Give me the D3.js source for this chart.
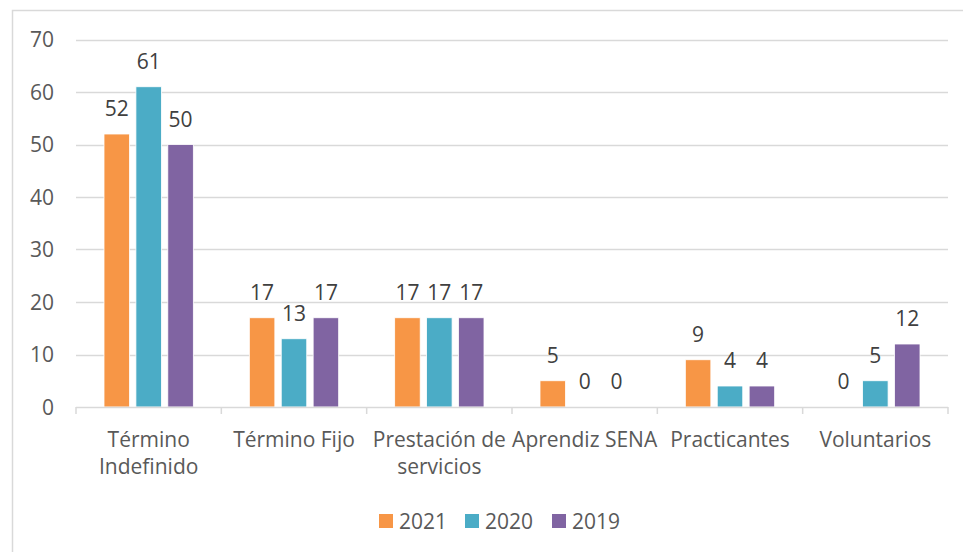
<html>
<head>
<meta charset="utf-8">
<script src="https://cdn.jsdelivr.net/npm/d3@7"></script>
<style>
  body { margin: 0; background: #fff; }
  text { font-family: "Open Sans", "Liberation Sans", Arial, sans-serif; fill: #595959; }
</style>
</head>
<body>
<div id="chart"></div>
<script>
// data
var categories = ["Término Indefinido", "Término Fijo", "Prestación de servicios", "Aprendiz SENA", "Practicantes", "Voluntarios"];
var catLines = [["Término", "Indefinido"], ["Término Fijo"], ["Prestación de", "servicios"], ["Aprendiz SENA"], ["Practicantes"], ["Voluntarios"]];
var seriesNames = ["2021", "2020", "2019"];
var v2021 = [52, 17, 17, 5, 9, 0];
var v2020 = [61, 13, 17, 0, 4, 5];
var v2019 = [50, 17, 17, 0, 4, 12];
var yTicks = [0, 10, 20, 30, 40, 50, 60, 70];
var colors = ["#F79646", "#4BACC6", "#8064A2"];

var seriesVals = [v2021, v2020, v2019];

var W = 963, H = 552;
var plot = {left: 76, right: 948, top: 39.5, bottom: 407};
var fs = "21px";

var svg = d3.select("#chart").append("svg")
    .attr("width", W)
    .attr("height", H);

// outer chart border (cropped at right/bottom)
svg.append("rect")
    .attr("x", 12.5).attr("y", 10.5)
    .attr("width", 1000).attr("height", 600)
    .attr("fill", "none")
    .attr("stroke", "#d9d9d9")
    .attr("stroke-width", 1.5);

var x = d3.scaleBand()
    .domain(categories)
    .range([plot.left, plot.right])
    .paddingInner(0)
    .paddingOuter(0);

var y = d3.scaleLinear()
    .domain([0, 70])
    .range([plot.bottom, plot.top]);

var xInner = d3.scaleBand()
    .domain(seriesNames)
    .range([28, x.bandwidth() - 28])
    .paddingInner(0.2);

// gridlines
svg.append("g")
    .selectAll("line")
    .data(yTicks.filter(function (d) { return d > 0; }))
    .enter().append("line")
    .attr("x1", plot.left).attr("x2", plot.right)
    .attr("y1", function (d) { return Math.round(y(d)) + 0.5; })
    .attr("y2", function (d) { return Math.round(y(d)) + 0.5; })
    .attr("stroke", "#d9d9d9")
    .attr("stroke-width", 1.5);

// y labels
svg.append("g")
    .selectAll("text")
    .data(yTicks)
    .enter().append("text")
    .attr("x", 54)
    .attr("y", function (d) { return y(d); })
    .attr("dy", "0.36em")
    .attr("text-anchor", "end")
    .attr("font-size", fs)
    .text(function (d) { return d; });

// bars
var groups = svg.append("g")
    .selectAll("g")
    .data(seriesNames)
    .enter().append("g")
    .attr("fill", function (d, i) { return colors[i]; });

groups.selectAll("rect")
    .data(function (s, si) {
        return categories.map(function (c, ci) { return {cat: c, s: s, v: seriesVals[si][ci]}; });
    })
    .enter().append("rect")
    .attr("x", function (d) { return x(d.cat) + xInner(d.s); })
    .attr("width", xInner.bandwidth())
    .attr("y", function (d) { return y(d.v); })
    .attr("height", function (d) { return y(0) - y(d.v); })
    .attr("stroke", "#fff")
    .attr("stroke-width", 0.8);

// value labels
groups.selectAll("text")
    .data(function (s, si) {
        return categories.map(function (c, ci) { return {cat: c, s: s, v: seriesVals[si][ci]}; });
    })
    .enter().append("text")
    .attr("x", function (d) { return x(d.cat) + xInner(d.s) + xInner.bandwidth() / 2; })
    .attr("y", function (d) { return y(d.v) - 18; })
    .attr("text-anchor", "middle")
    .attr("font-size", fs)
    .style("fill", "#404040")
    .text(function (d) { return d.v; });

// x axis line and ticks
var axis = svg.append("g").attr("stroke", "#d9d9d9").attr("stroke-width", 1.5);
axis.append("line")
    .attr("x1", plot.left).attr("x2", plot.right)
    .attr("y1", plot.bottom + 0.5).attr("y2", plot.bottom + 0.5);
var bounds = categories.map(function (c) { return x(c); }).concat([plot.right]);
axis.selectAll("line.tick")
    .data(bounds)
    .enter().append("line")
    .attr("class", "tick")
    .attr("x1", function (d) { return d; }).attr("x2", function (d) { return d; })
    .attr("y1", plot.bottom).attr("y2", plot.bottom + 7);

// category labels
var catG = svg.append("g")
    .selectAll("text")
    .data(categories)
    .enter().append("text")
    .attr("text-anchor", "middle")
    .attr("font-size", fs)
    .attr("x", function (d) { return x(d) + x.bandwidth() / 2; })
    .attr("y", 447);
catG.selectAll("tspan")
    .data(function (d, i) { return catLines[i]; })
    .enter().append("tspan")
    .attr("x", function () { return d3.select(this.parentNode).attr("x"); })
    .attr("dy", function (d, i) { return i === 0 ? 0 : 27; })
    .text(function (d) { return d; });

// legend
var legendX = [379, 465, 552];
var legend = svg.append("g")
    .selectAll("g")
    .data(seriesNames)
    .enter().append("g")
    .attr("transform", function (d, i) { return "translate(" + legendX[i] + ",514)"; });
legend.append("rect")
    .attr("width", 14).attr("height", 14)
    .attr("fill", function (d, i) { return colors[i]; });
legend.append("text")
    .attr("x", 20).attr("y", 15)
    .attr("font-size", fs)
    .text(function (d) { return d; });
</script>
</body>
</html>
